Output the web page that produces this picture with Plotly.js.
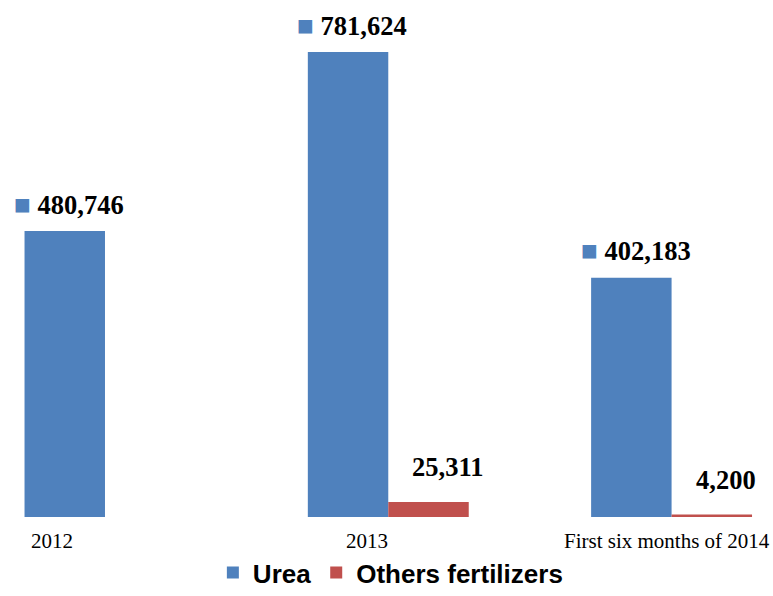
<!DOCTYPE html>
<html>
<head>
<meta charset="utf-8">
<script src="https://cdn.plot.ly/plotly-3.0.1.min.js"></script>
<style>html,body{margin:0;padding:0;background:#fff;}#chart{width:773px;height:596px;}</style>
</head>
<body>
<div id="chart"></div>
<script>
const categories = ['2012', '2013', 'First six months of 2014'];
const ureaValues = [480746, 781624, 402183];
const otherValues = [0, 25311, 4200];
const seriesNames = ['Urea', 'Others fertilizers'];
const seriesColors = ['#4F81BD', '#C0504D'];

const fmt = v => v.toLocaleString('en-US');
const idx = categories.map((c, i) => i);

const traces = [
  {type: 'bar', name: seriesNames[0], x: idx, y: ureaValues,
   marker: {color: seriesColors[0]}, hoverinfo: 'y'},
  {type: 'bar', name: seriesNames[1], x: idx, y: otherValues,
   marker: {color: seriesColors[1]}, hoverinfo: 'y'}
];

const labelFont = {family: 'Liberation Serif, Times New Roman, serif', size: 26.5, color: '#000', weight: 'bold'};
const annotations = [];
// data labels
ureaValues.forEach((v, i) => {
  annotations.push({
    x: i, y: v, xref: 'x', yref: 'y',
    xanchor: 'left', yanchor: 'middle', xshift: -93, yshift: 27,
    showarrow: false,
    text: '<span style="color:' + seriesColors[0] + ';font-size:28px">■</span> ' + fmt(v),
    font: labelFont
  });
});
otherValues.forEach((v, i) => {
  if (v <= 0) return;
  annotations.push({
    x: i, y: v, xref: 'x', yref: 'y',
    xanchor: 'left', yanchor: 'middle', xshift: 22, yshift: 35,
    showarrow: false,
    text: fmt(v),
    font: labelFont
  });
});
// category labels
const tickShift = [-53, -21, -5];
categories.forEach((c, i) => {
  annotations.push({
    x: i, y: 0, xref: 'x', yref: 'y',
    xanchor: 'center', yanchor: 'middle', xshift: tickShift[i], yshift: -24,
    showarrow: false, text: c,
    font: {family: 'Liberation Serif, Times New Roman, serif', size: 21, color: '#000'}
  });
});

const layout = {
  width: 773, height: 596,
  margin: {l: 0, r: 0, t: 10, b: 79},
  paper_bgcolor: '#fff', plot_bgcolor: '#fff',
  barmode: 'group', bargap: 0.432, bargroupgap: 0,
  showlegend: true,
  legend: {orientation: 'h', x: 0.505, xanchor: 'center', yref: 'container', y: -0.008, yanchor: 'bottom',
           font: {family: 'Liberation Sans, Arial, sans-serif', size: 26, color: '#000', weight: 'bold'},
           traceorder: 'normal', itemwidth: 30},
  xaxis: {range: [-0.3706, 2.358], showticklabels: false, ticks: '',
          showgrid: false, zeroline: false, showline: false, fixedrange: true},
  yaxis: {range: [0, 852220], visible: false, showgrid: false, zeroline: false, fixedrange: true},
  annotations: annotations
};

Plotly.newPlot('chart', traces, layout, {displayModeBar: false, staticPlot: true});
</script>
</body>
</html>
